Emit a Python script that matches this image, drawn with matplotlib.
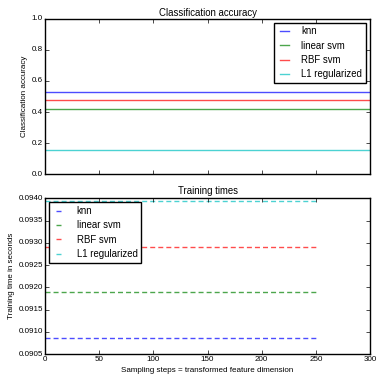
import matplotlib
matplotlib.use("Agg")
import matplotlib.pyplot as plt
import numpy as np

plt.style.use('classic')
plt.rcParams['font.family'] = ['Liberation Sans', 'DejaVu Sans']

labels = ["knn", "linear svm", "RBF svm", "L1 regularized"]
colors = ["b", "g", "r", "c"]
accuracy = [0.529, 0.420, 0.478, 0.154]
sample_range = [0, 252]
train_times = [0.09087, 0.09189, 0.09290, 0.09393]

fig = plt.figure(figsize=(3.76, 3.75), dpi=100)
fig.patch.set_facecolor('white')
ax1 = fig.add_axes([0.12, 0.535, 0.864, 0.415])
ax2 = fig.add_axes([0.12, 0.056, 0.864, 0.415])

tfs = 5.8
lfs = 5.8
hfs = 6.9
for lab, c, a in zip(labels, colors, accuracy):
    ax1.axhline(a, color=c, lw=1.0, alpha=0.7, label=lab)
ax1.set_ylim(0, 1)
ax1.set_xlim(0, 300)
ax1.set_xticklabels([])
ax1.set_title("Classification accuracy", fontsize=hfs, pad=2)
ax1.set_ylabel("Classification accuracy", fontsize=lfs, labelpad=2.5)
ax1.tick_params(labelsize=tfs, length=3, pad=1.6)
ax1.legend(loc='upper right', fontsize=hfs, handlelength=1.5, handletextpad=1.0,
           borderaxespad=0.4, labelspacing=0.45)

for lab, c, t in zip(labels, colors, train_times):
    ax2.plot(sample_range, [t, t], color=c, lw=1.0, alpha=0.7, label=lab,
             linestyle=(0, (3.6, 2.2)))
ax2.set_xlim(0, 300)
ax2.set_ylim(0.0905, 0.0940)
ax2.set_yticks(np.arange(0.0905, 0.09401, 0.0005))
ax2.yaxis.set_major_formatter(matplotlib.ticker.FormatStrFormatter('%.4f'))
ax2.set_title("Training times", fontsize=hfs, pad=3)
ax2.set_ylabel("Training time in seconds", fontsize=lfs, labelpad=2.5)
ax2.set_xlabel("Sampling steps = transformed feature dimension", fontsize=lfs, labelpad=2.5)
ax2.tick_params(labelsize=tfs, length=3, pad=1.6)
ax2.legend(loc='upper left', fontsize=hfs, handlelength=1.5, handletextpad=1.0,
           borderaxespad=0.4, labelspacing=0.45)

fig.savefig("out.png", dpi=100, facecolor='white')
